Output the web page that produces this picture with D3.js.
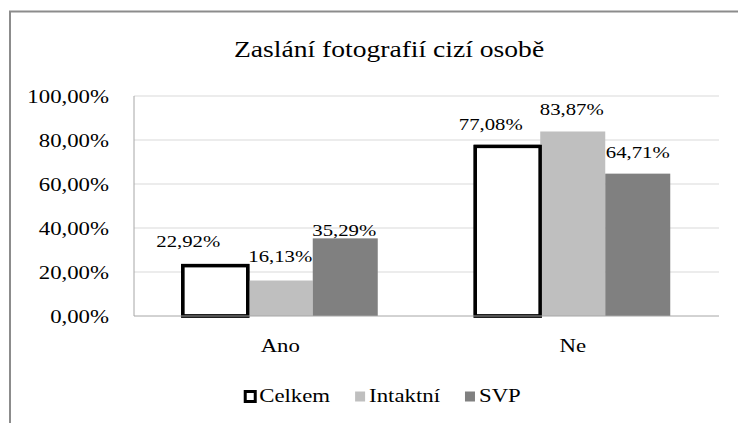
<html>
<head>
    <title>Zaslání fotografií cizí osobě</title>
    <script src="https://d3js.org/d3.v7.min.js"></script>
    <style>
        body { margin: 0; background: #fff; }
        svg { font-family: "Liberation Serif", "Times New Roman", serif; }
        .grid line { stroke: #d9d9d9; stroke-width: 1; }
        .txt { fill: #000; }
    </style>
</head>
<body>
<div id="chart"></div>
<script>
    // data (percent)
    var categories = ["Ano", "Ne"];
    var seriesNames = ["Celkem", "Intaktní", "SVP"];
    var celkem = [22.92, 77.08];
    var intaktni = [16.13, 83.87];
    var svp = [35.29, 64.71];
    var yTicks = [0, 20, 40, 60, 80, 100];

    var seriesValues = [celkem, intaktni, svp];
    var fills = ["#ffffff", "#bfbfbf", "#808080"];

    // hand-moved data labels in the original (dx, dy from bar top)
    var labelNudge = [
        [[-27, -19], [0, -19], [-1, -2]],
        [[-17, -16], [-1, -16], [0, -16]]
    ];

    var W = 738, H = 423;
    var stretch = 1.2;   // text in the picture is widened horizontally
    var plot = { left: 134, right: 719, top: 96, bottom: 316 };

    var loc = d3.formatLocale({ decimal: ",", thousands: " ", grouping: [3], currency: ["", ""] });
    var fmt = loc.format(".2f");

    var svg = d3.select("#chart").append("svg")
        .attr("width", W).attr("height", H);

    // chart frame (runs off the right and bottom edge)
    svg.append("rect")
        .attr("x", 10).attr("y", 11.5)
        .attr("width", 900).attr("height", 600)
        .attr("fill", "#fff")
        .attr("stroke", "#8c8c8c").attr("stroke-width", 2);

    function txt(g, x, y, s, size, anchor) {
        return g.append("text")
            .attr("class", "txt")
            .attr("transform", "translate(" + x + "," + y + ") scale(" + stretch + ",1)")
            .attr("text-anchor", anchor || "middle")
            .style("font-size", size + "px")
            .text(s);
    }

    /* Scales */
    var x0 = d3.scaleBand().domain(categories).range([plot.left, plot.right]).padding(0);
    var x1 = d3.scaleBand().domain(seriesNames).range([0, x0.bandwidth()])
        .paddingInner(0).paddingOuter(0.75);
    var y = d3.scaleLinear().domain([0, 100]).range([plot.bottom, plot.top]);

    /* Title */
    txt(svg, 389, 57, "Zaslání fotografií cizí osobě", 23);

    /* Grid */
    svg.append("g").attr("class", "grid")
        .selectAll("line").data(yTicks.slice(1)).enter()
        .append("line")
        .attr("x1", plot.left).attr("x2", plot.right)
        .attr("y1", d => y(d)).attr("y2", d => y(d));

    /* Y axis labels */
    yTicks.forEach(function(t) {
        txt(svg, plot.left - 25, y(t) + 7, fmt(t) + "%", 19, "end");
    });

    /* Bars */
    var groups = svg.append("g").selectAll("g")
        .data(categories).enter()
        .append("g")
        .attr("transform", d => "translate(" + x0(d) + ",0)");

    groups.selectAll("rect")
        .data((c, ci) => seriesNames.map((s, si) => ({ s: s, si: si, ci: ci, v: seriesValues[si][ci] })))
        .enter().append("rect")
        .attr("x", d => x1(d.s))
        .attr("y", d => y(d.v))
        .attr("width", x1.bandwidth())
        .attr("height", d => y(0) - y(d.v))
        .attr("fill", d => fills[d.si])
        .attr("stroke", d => d.si === 0 ? "#000" : "none")
        .attr("stroke-width", 3.3);

    /* Axis lines */
    svg.append("line")
        .attr("x1", plot.left).attr("x2", plot.left)
        .attr("y1", plot.top).attr("y2", plot.bottom)
        .attr("stroke", "#a6a6a6").attr("stroke-width", 1);
    svg.append("line")
        .attr("x1", plot.left).attr("x2", plot.right)
        .attr("y1", plot.bottom).attr("y2", plot.bottom)
        .attr("stroke", "#a6a6a6").attr("stroke-width", 1);

    // redraw Celkem outlines on top of the axis line
    groups.selectAll("rect.outline")
        .data((c, ci) => [{ ci: ci, v: celkem[ci] }])
        .enter().append("rect")
        .attr("class", "outline")
        .attr("x", x1("Celkem")).attr("y", d => y(d.v))
        .attr("width", x1.bandwidth()).attr("height", d => y(0) - y(d.v))
        .attr("fill", "none").attr("stroke", "#000").attr("stroke-width", 3.3);

    /* Data labels */
    categories.forEach(function(c, ci) {
        seriesNames.forEach(function(s, si) {
            var v = seriesValues[si][ci];
            var n = labelNudge[ci][si];
            txt(svg, x0(c) + x1(s) + x1.bandwidth() / 2 + n[0], y(v) + n[1], fmt(v) + "%", 17.3);
        });
    });

    /* Category labels */
    categories.forEach(function(c) {
        txt(svg, x0(c) + x0.bandwidth() / 2, 352, c, 19);
    });

    /* Legend */
    var legend = svg.append("g");
    var box = 10, gapBox = 3, gapItem = 25, cursor = 0;
    seriesNames.forEach(function(s, i) {
        var g = legend.append("g").attr("transform", "translate(" + cursor + ",0)");
        g.append("rect")
            .attr("x", 0).attr("y", -10.5)
            .attr("width", box).attr("height", box)
            .attr("fill", fills[i])
            .attr("stroke", i === 0 ? "#000" : "none")
            .attr("stroke-width", 3);
        var t = txt(g, box + gapBox + 1, 0, s, 19, "start");
        cursor += box + gapBox + 1 + t.node().getComputedTextLength() * stretch + gapItem;
    });
    var legendW = cursor - gapItem;
    legend.attr("transform", "translate(" + (383 - legendW / 2) + ",402)");
</script>
</body>
</html>
